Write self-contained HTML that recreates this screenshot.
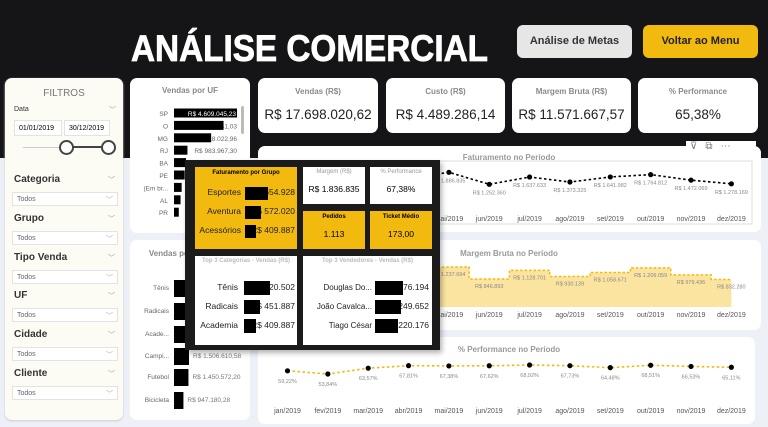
<!DOCTYPE html>
<html><head><meta charset="utf-8">
<style>
*{margin:0;padding:0;box-sizing:border-box}
body{width:768px;height:427px;overflow:hidden;background:#edf0f7;font-family:"Liberation Sans",sans-serif;position:relative}
.abs{position:absolute}
.card{position:absolute;background:#fff;border-radius:7px}
.kt{font-size:8px;color:#8a8a8a;text-align:center;font-weight:bold}
.kv{font-size:13.5px;color:#222;text-align:center;white-space:nowrap}
.flab{position:absolute;left:14px;font-size:10px;font-weight:bold;color:#333}
.fsel{position:absolute;left:12px;width:106px;height:14px;border:1px solid #e3e3e3;background:#fff;font-size:7px;color:#666;padding:3px 0 0 4px}
.chev{position:absolute;font-size:7px;color:#999}
.tt{position:absolute;font-size:6px;color:#999;text-align:center;font-weight:bold}
.lab{position:absolute;font-size:8.5px;text-align:right;line-height:19px;color:#222;white-space:nowrap}
</style></head><body>
<div class="abs" style="left:0;top:0;width:768px;height:158px;background:#151517"></div>
<svg class="abs" style="left:0;top:0" width="768" height="75">
<text x="131" y="61" font-family="Liberation Sans" font-weight="bold" font-size="37" fill="#fff" stroke="#fff" stroke-width="0.8" textLength="357" lengthAdjust="spacingAndGlyphs">ANÁLISE COMERCIAL</text>
</svg>
<div class="abs" style="left:517px;top:25px;width:115px;height:33px;background:#e6e6e6;border-radius:6px;font-size:11px;font-weight:bold;color:#333;text-align:center;line-height:33px">Análise de Metas</div>
<div class="abs" style="left:643px;top:25px;width:115px;height:33px;background:#f2b90f;border-radius:6px;font-size:11px;font-weight:bold;color:#222;text-align:center;line-height:33px">Voltar ao Menu</div>

<!-- filters -->
<div class="card" style="left:5px;top:78px;width:118px;height:342px;background:#fdfcf4;box-shadow:0 1px 2px #ccc">
<div style="text-align:center;font-size:10px;color:#777;margin-top:10px">FILTROS</div>
<div class="flab" style="left:9px;top:28px;font-size:7px;font-weight:normal">Data</div>
<div class="chev" style="left:104px;top:27px">﹀</div>
<div class="abs" style="left:9px;top:42px;width:48px;height:16px;border:1px solid #e3e3e3;background:#fff;font-size:7px;padding:4px 0 0 4px">01/01/2019</div>
<div class="abs" style="left:59px;top:42px;width:46px;height:16px;border:1px solid #e3e3e3;background:#fff;font-size:7px;padding:4px 0 0 4px">30/12/2019</div>
<div class="abs" style="left:18px;top:69px;width:40px;height:1px;background:#ccc"></div>
<div class="abs" style="left:62px;top:68px;width:42px;height:2px;background:#444"></div>
<div class="abs" style="left:54px;top:62px;width:15px;height:15px;border:2px solid #444;border-radius:50%;background:#fff"></div>
<div class="abs" style="left:96px;top:62px;width:15px;height:15px;border:2px solid #444;border-radius:50%;background:#fff"></div>
</div>
<div id="filters"></div>

<!-- vendas por UF -->
<div class="card" style="left:130px;top:78px;width:120px;height:155px">
<div style="text-align:center;font-size:8px;font-weight:bold;color:#888;margin-top:8px">Vendas por UF</div>
<div class="abs" style="left:111px;top:28px;width:3px;height:28px;background:#bbb;border-radius:2px"></div>
</div>
<div class="card" style="left:130px;top:240px;width:120px;height:180px">
<div style="text-align:center;font-size:8px;font-weight:bold;color:#888;margin-top:9px">Vendas por Categoria</div>
</div>
<svg id="leftbars" class="abs" style="left:0;top:0" width="256" height="427"></svg>

<!-- KPIs -->
<div class="card" style="left:258px;top:78px;width:120px;height:55px"><div class="kt" style="margin-top:9px">Vendas (R$)</div><div class="kv" style="margin-top:11px">R$ 17.698.020,62</div></div>
<div class="card" style="left:386px;top:78px;width:119px;height:55px"><div class="kt" style="margin-top:9px">Custo (R$)</div><div class="kv" style="margin-top:11px">R$ 4.489.286,14</div></div>
<div class="card" style="left:512px;top:78px;width:119px;height:55px"><div class="kt" style="margin-top:9px">Margem Bruta (R$)</div><div class="kv" style="margin-top:11px">R$ 11.571.667,57</div></div>
<div class="card" style="left:638px;top:78px;width:120px;height:55px"><div class="kt" style="margin-top:9px">% Performance</div><div class="kv" style="margin-top:11px">65,38%</div></div>

<!-- chart cards -->
<div class="card" style="left:258px;top:146px;width:503px;height:86px"></div>
<div class="abs" style="left:686px;top:141px;width:70px;height:16px;background:#fff;font-size:10px;color:#777;letter-spacing:8px;padding-left:4px">⊽⧉⋯</div>
<div class="card" style="left:258px;top:240px;width:503px;height:90px"></div>
<div class="card" style="left:258px;top:337px;width:497px;height:87px"></div>
<svg id="charts" class="abs" style="left:0;top:0" width="768" height="427"></svg>

<!-- tooltip -->
<div class="abs" style="left:185px;top:160px;width:255px;height:190px;background:#1b1b1b;box-shadow:2px 3px 5px rgba(0,0,0,.3)">
<div class="abs" style="left:10px;top:7px;width:102px;height:82px;background:#f2b90f">
<div style="font-size:6px;font-weight:bold;text-align:center;margin-top:3px">Faturamento por Grupo</div>
<div class="lab" style="right:56px;top:16px">Esportes<br>Aventura<br>Acessórios</div>
<div class="lab" style="right:2px;top:16px">R$ 654.928<br>R$ 572.020<br>R$ 409.887</div>
<div class="abs" style="left:50px;top:20px;width:23px;height:13px;background:#000"></div>
<div class="abs" style="left:50px;top:39px;width:16px;height:13px;background:#000"></div>
<div class="abs" style="left:50px;top:58px;width:11px;height:13px;background:#000"></div>
</div>
<div class="abs" style="left:118px;top:7px;width:62px;height:37px;background:#fff"><div class="tt" style="width:62px;top:2px;font-weight:normal">Margem (R$)</div><div class="abs" style="width:62px;top:17px;font-size:8.5px;text-align:center">R$ 1.836.835</div></div>
<div class="abs" style="left:185px;top:7px;width:62px;height:37px;background:#fff"><div class="tt" style="width:62px;top:2px;font-weight:normal">% Performance</div><div class="abs" style="width:62px;top:17px;font-size:8.5px;text-align:center">67,38%</div></div>
<div class="abs" style="left:118px;top:51px;width:62px;height:38px;background:#f2b90f"><div class="abs" style="width:62px;top:3px;font-size:6px;font-weight:bold;text-align:center">Pedidos</div><div class="abs" style="width:62px;top:18px;font-size:8.5px;text-align:center">1.113</div></div>
<div class="abs" style="left:185px;top:51px;width:62px;height:38px;background:#f2b90f"><div class="abs" style="width:62px;top:3px;font-size:6px;font-weight:bold;text-align:center">Ticket Médio</div><div class="abs" style="width:62px;top:18px;font-size:8.5px;text-align:center">173,00</div></div>
<div class="abs" style="left:10px;top:96px;width:102px;height:89px;background:#fff">
<div class="tt" style="width:102px;top:2px;color:#bbb">Top 3 Categorias - Vendas (R$)</div>
<div class="lab" style="right:59px;top:22px">Tênis<br>Radicais<br>Academia</div>
<div class="lab" style="right:2px;top:22px">R$ 720.502<br>R$ 451.887<br>R$ 409.887</div>
<div class="abs" style="left:49px;top:25px;width:26px;height:14px;background:#000"></div>
<div class="abs" style="left:49px;top:44px;width:16px;height:14px;background:#000"></div>
<div class="abs" style="left:49px;top:63px;width:12px;height:14px;background:#000"></div>
</div>
<div class="abs" style="left:118px;top:96px;width:129px;height:89px;background:#fff">
<div class="tt" style="width:129px;top:2px;color:#bbb">Top 3 Vendedores - Vendas (R$)</div>
<div class="lab" style="right:60px;top:22px;font-size:8px">Douglas Do...<br>João Cavalca...<br>Tiago César</div>
<div class="lab" style="right:3px;top:22px">R$ 276.194<br>R$ 249.652<br>R$ 220.176</div>
<div class="abs" style="left:72px;top:25px;width:28px;height:14px;background:#000"></div>
<div class="abs" style="left:72px;top:44px;width:26px;height:14px;background:#000"></div>
<div class="abs" style="left:72px;top:63px;width:23px;height:14px;background:#000"></div>
</div>
</div>

<script>
// ---- data ----
const filterNames=["Categoria","Grupo","Tipo Venda","UF","Cidade","Cliente"];
const ufCats=["SP","O","MG","RJ","BA","PE","(Em br...","AL","PR"];
const ufVals=[4609045.23,3624641.03,2718022.96,983967.30,880000,780000,560000,480000,350000];
const ufLabels=["R$ 4.609.045,23","R$ 3.624.641,03","R$ 2.718.022,96","R$ 983.967,30","","","","",""];
const catNames=["Tênis","Radicais","Acade...","Campi...","Futebol","Bicicleta"];
const catVals=[2100000,2000000,1900000,1506610.58,1450572.20,947180.28];
const catLabels=["","","","R$ 1.506.610,58","R$ 1.450.572,20","R$ 947.180,28"];
const months=["jan/2019","fev/2019","mar/2019","abr/2019","mai/2019","jun/2019","jul/2019","ago/2019","set/2019","out/2019","nov/2019","dez/2019"];
const fatVals=[1250000,1150000,1450000,1550000,1886835,1252360,1637633,1373325,1641982,1764812,1472069,1278169];
const fatLabels=["","","","","R$ 1.886.835","R$ 1.252.360","R$ 1.637.633","R$ 1.373.325","R$ 1.641.982","R$ 1.764.812","R$ 1.472.069","R$ 1.278.169"];
const marVals=[760000,620000,920000,1050000,1237694,846893,1128701,930139,1058671,1209059,979436,832280];
const marLabels=["","","","","R$ 1.237.694","R$ 846.893","R$ 1.128.701","R$ 930.139","R$ 1.058.671","R$ 1.209.059","R$ 979.436","R$ 832.280"];
const perfVals=[59.22,53.84,63.57,67.81,67.38,67.62,68.92,67.73,64.48,68.51,66.53,65.11];
const perfLabels=["59,22%","53,84%","63,57%","67,81%","67,38%","67,62%","68,92%","67,73%","64,48%","68,51%","66,53%","65,11%"];

const NS="http://www.w3.org/2000/svg";
function mk(parent,tag,attrs,txt){const e=document.createElementNS(NS,tag);for(const k in attrs)e.setAttribute(k,attrs[k]);if(txt!==undefined)e.textContent=txt;parent.appendChild(e);return e;}

// filters
const fc=document.getElementById('filters');
filterNames.forEach((n,i)=>{
  const y=174+i*38.8;
  const l=document.createElement('div');l.className='flab';l.style.top=y+'px';l.textContent=n;
  
  
  fc.appendChild(l);
  const c=document.createElement('div');c.className='chev';c.style.left='108px';c.style.top=(y+1)+'px';c.textContent='﹀';fc.appendChild(c);
  const s=document.createElement('div');s.className='fsel';s.style.top=(y+18)+'px';s.innerHTML='Todos<span style="position:absolute;right:4px;top:2px;color:#aaa">﹀</span>';
  
  
  fc.appendChild(s);
});

// left bar charts
const lb=document.getElementById('leftbars');
const ufX=v=>v/4609045.23*63;
ufCats.forEach((c,i)=>{
  const y=113+i*12.4;
  mk(lb,'text',{x:168,y:y+3,'font-size':6.5,fill:'#666','text-anchor':'end'},c);
  const w=ufX(ufVals[i]);
  if(ufLabels[i]&&i>0){mk(lb,'text',{x:237,y:y+3,'font-size':6.5,fill:'#666','text-anchor':'end'},ufLabels[i]);}
  const r=mk(lb,'rect',{x:174,y:y-4.5,width:w,height:9,fill:'#000'});
  
  
  if(i==0)mk(lb,'text',{x:236,y:y+3,'font-size':6.5,fill:'#fff','text-anchor':'end'},ufLabels[i]);
});
const catX=v=>v/1506610.58*15;
catNames.forEach((c,i)=>{
  const y=[288,311,334,356,377,400][i];
  mk(lb,'text',{x:169,y:y+2,'font-size':6.5,fill:'#666','text-anchor':'end'},c);
  const r=mk(lb,'rect',{x:174,y:y-8,width:catX(catVals[i]),height:17,fill:'#000'});
  
  
  if(catLabels[i])mk(lb,'text',{x:174+catX(catVals[i])+4,y:y+2,'font-size':6.5,fill:'#777'},catLabels[i]);
});

// period charts
const ch=document.getElementById('charts');
const mx=i=>287.5+i*40.35;
// faturamento
mk(ch,'text',{x:509,y:160,'font-size':8,'font-weight':'bold',fill:'#999','text-anchor':'middle'},'Faturamento no Período');
mk(ch,'rect',{x:262,y:161,width:490,height:63,fill:'none',stroke:'#ddd','stroke-width':1});
const fy=v=>208-v/52873;
mk(ch,'polyline',{points:fatVals.map((v,i)=>mx(i)+','+fy(v)).join(' '),fill:'none',stroke:'#000','stroke-width':1.6,'stroke-dasharray':'2.5,2.5'});
fatVals.forEach((v,i)=>{
  const c=mk(ch,'circle',{cx:mx(i),cy:fy(v),r:2.6,fill:'#000'});
  
  
  if(fatLabels[i])mk(ch,'text',{x:mx(i),y:fy(v)+10,'font-size':5.5,fill:'#888','text-anchor':'middle'},fatLabels[i]);
  mk(ch,'text',{x:mx(i),y:221,'font-size':7,fill:'#555','text-anchor':'middle'},months[i]);
});
// margem
mk(ch,'text',{x:509,y:256,'font-size':8,'font-weight':'bold',fill:'#999','text-anchor':'middle'},'Margem Bruta no Período');
const my=v=>305-v/32567;
let areaD='M'+(mx(0)-20)+',307';
let topD='';
marVals.forEach((v,i)=>{const x0=mx(i)-20.2,x1=i==11?mx(11):mx(i)+20.2;areaD+=' L'+x0+','+my(v)+' L'+x1+','+my(v);topD+=(i?' L':'M')+x0+','+my(v)+' L'+x1+','+my(v);});
areaD+=' L'+mx(11)+',307 Z';
const ar=mk(ch,'path',{d:areaD,fill:'#fbe4a0'});


mk(ch,'path',{d:topD,fill:'none',stroke:'#f2b90f','stroke-width':1.5,'stroke-dasharray':'2.5,2'});
marVals.forEach((v,i)=>{
  if(marLabels[i])mk(ch,'text',{x:mx(i),y:my(v)+9,'font-size':5.5,fill:'#888','text-anchor':'middle'},marLabels[i]);
  mk(ch,'text',{x:mx(i),y:317,'font-size':7,fill:'#555','text-anchor':'middle'},months[i]);
});
// performance
mk(ch,'text',{x:509,y:352,'font-size':8,'font-weight':'bold',fill:'#999','text-anchor':'middle'},'% Performance no Período');
const py=v=>365-(v-68.92)/1.676;
mk(ch,'polyline',{points:perfVals.map((v,i)=>mx(i)+','+py(v)).join(' '),fill:'none',stroke:'#f2b90f','stroke-width':1.6,'stroke-dasharray':'2.5,2.5'});
perfVals.forEach((v,i)=>{
  const c=mk(ch,'circle',{cx:mx(i),cy:py(v),r:2.6,fill:'#000'});
  
  
  mk(ch,'text',{x:mx(i),y:py(v)+12,'font-size':5.5,fill:'#888','text-anchor':'middle'},perfLabels[i]);
  mk(ch,'text',{x:mx(i),y:413,'font-size':7,fill:'#555','text-anchor':'middle'},months[i]);
});
</script>
</body></html>
